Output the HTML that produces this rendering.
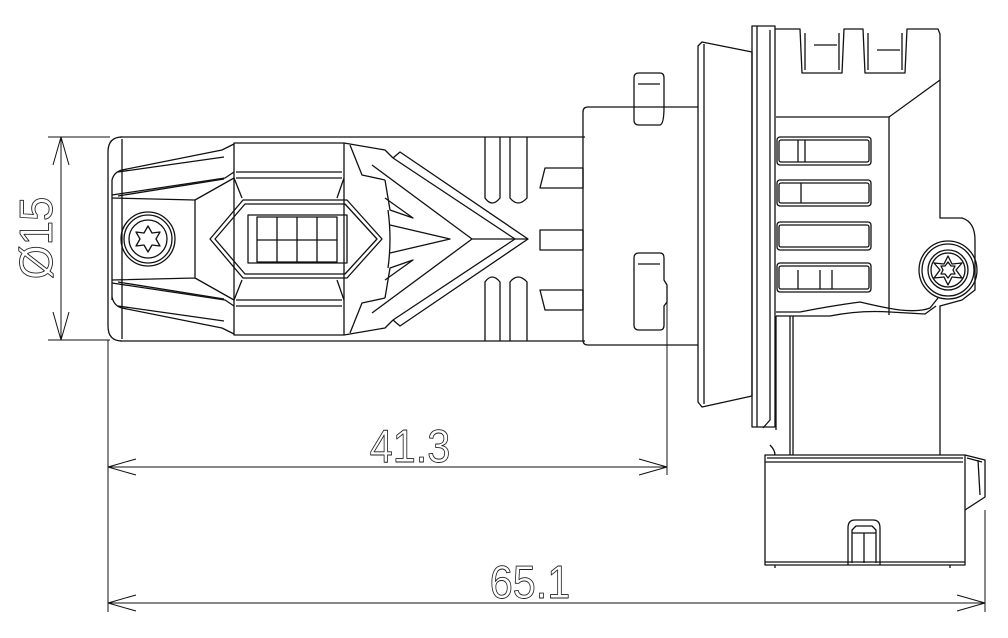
<!DOCTYPE html>
<html><head><meta charset="utf-8"><style>
html,body{margin:0;padding:0;background:#fff;width:1008px;height:638px;overflow:hidden}
svg{display:block}
text{font-family:"Liberation Sans Narrow","Liberation Sans",sans-serif;fill:#fff;stroke:#222;stroke-width:0.9}
</style></head><body>
<svg width="1008" height="638" viewBox="0 0 1008 638" fill="none" stroke="#111" stroke-width="1.3" stroke-linejoin="round">
<!-- dimension Ø15 -->
<line x1="48" y1="137" x2="110" y2="137" stroke-width="1"/>
<line x1="48" y1="340" x2="110" y2="340" stroke-width="1"/>
<line x1="61" y1="137" x2="61" y2="340" stroke-width="1"/>
<polyline points="53,165 61,137 69,165" stroke-width="1"/>
<polyline points="53,312 61,340 69,312" stroke-width="1"/>
<text transform="translate(52,238) rotate(-90) scale(0.95,1)" font-size="46" text-anchor="middle">Ø15</text>

<!-- 41.3 -->
<line x1="108" y1="340" x2="108" y2="612" stroke-width="1"/>
<line x1="667" y1="290" x2="667" y2="475" stroke-width="1"/>
<line x1="108" y1="467" x2="667" y2="467" stroke-width="1"/>
<polyline points="136,459 108,467 136,475" stroke-width="1"/>
<polyline points="639,459 667,467 639,475" stroke-width="1"/>
<text transform="translate(410,462) scale(0.9,1)" font-size="46" text-anchor="middle">41.3</text>

<!-- 65.1 -->
<line x1="985" y1="510" x2="985" y2="612" stroke-width="1"/>
<line x1="108" y1="603" x2="985" y2="603" stroke-width="1"/>
<polyline points="136,595 108,603 136,611" stroke-width="1"/>
<polyline points="957,595 985,603 957,611" stroke-width="1"/>
<text transform="translate(530,598) scale(0.9,1)" font-size="46" text-anchor="middle">65.1</text>

<!-- LEFT BODY -->
<path d="M120,137 L585,137 M120,341 L585,341"/>
<path d="M122,137 Q108,137 108,152 L108,326 Q108,341 122,341"/>
<path d="M122,139 L122,339"/>
<path d="M112,180 L112,300 M112,180 Q114,172 122,170 L222,150 L234,144 M112,195 L225,178 L234,172"/>
<path d="M118,172 L224,157 M118,196 L224,179"/>
<path d="M112,297 Q114,306 122,308 L222,328 L234,334 M112,283 L225,300 L234,306"/>
<path d="M118,306 L224,321 M118,282 L224,299"/>
<path d="M112,198 L195,200 L195,278 L112,280 M195,200 L234,178 M195,278 L234,300"/>
<circle cx="148" cy="239" r="27"/>
<circle cx="148" cy="239" r="24"/>
<circle cx="148" cy="239" r="19"/>
<polygon points="148,226 152,233 160,232 156,239 160,246 152,245 148,252 144,245 136,246 140,239 136,232 144,233"/>
<path d="M234,143 L344,143 L344,335 L234,335 Z"/>
<path d="M236,172 L342,172 M236,178 L342,178 M236,300 L342,300 M236,306 L342,306"/>
<path d="M234,178 L242,198 M344,178 L337,198 M234,300 L242,280 M344,300 L337,280"/>
<polygon points="210,239 243,200 347,200 382,239 347,278 243,278"/>
<polygon points="215,239 245,204 345,204 377,239 345,274 245,274"/>
<rect x="248" y="215" width="99" height="48"/>
<rect x="257" y="217" width="80" height="45"/>
<path d="M277,217 V262 M297,217 V262 M317,217 V262 M257,240 H337"/>
<path d="M344,143 L385,150 L393,158 M344,335 L385,328 L393,320"/>
<path d="M350,145 L362,175 L385,180 M350,333 L362,303 L385,298"/>
<path d="M385,180 L390,210 L413,218 L385,198 M385,298 L390,268 L413,260 L385,280"/>
<path d="M388,210 Q392,239 388,268"/>
<path d="M393,158 L400,152 L528,239 L400,326 L393,320"/>
<path d="M393,158 L515,239 L393,320"/>
<path d="M372,165 L472,239 L372,313"/>
<path d="M390,225 L450,239 L390,253"/>
<path d="M472,239 L528,239"/>
<path d="M485,137 V198 Q492,208 500,198 V137 M510,137 V198 Q518,208 527,198 V137"/>
<path d="M485,341 V282 Q492,272 500,282 V341 M510,341 V282 Q518,272 527,282 V341"/>
<path d="M545,168 L583,168 L583,188 L540,188 Z"/>
<path d="M540,230 L583,230 L583,250 L540,250 Z"/>
<path d="M540,290 L583,290 L583,310 L545,310 Z"/>

<!-- socket base -->
<path d="M583,112 Q583,107 588,107 L698,107 M588,345 Q583,345 583,340 L583,112 M588,345 L698,345"/>
<path d="M634,107 V78 Q634,73 639,73 L660,73 Q664,73 664,78 V107 Q664,124 660,125 L639,125 Q634,125 634,120 Z"/>
<path d="M638,84 L660,84"/>
<path d="M634,258 Q634,253 639,253 L660,253 Q664,253 664,258 V280 L667,285 V302 L664,306 V325 Q664,330 660,330 L639,330 Q634,330 634,325 Z"/>
<path d="M638,264 L660,264"/>
<path d="M698,46 L702,42 L752,52 L752,396 L702,407 L698,402 Z"/>
<path d="M704,44 V404"/>
<path d="M752,26 L775,26 L775,427 L752,427 Z"/>
<path d="M757,26 V427 M770,30 V420 L763,428"/>
<!-- housing -->
<path d="M775,29 L800,29 L802,73 L842,73 L844,29 L863,29 L865,73 L905,73 L907,29 L938,29 L940,34 L940,80 L889,117 L889,315"/>
<path d="M805,33 V70 M839,33 V70 M868,33 V70 M902,33 V70 M814,45 L837,45 M877,50 L900,50"/>
<path d="M940,80 L940,218 L962,218 Q975,222 975,240 L975,290 L962,300 L940,306 L940,455"/>
<path d="M776,117 L889,117"/>
<rect x="777" y="137" width="94" height="28" rx="3"/>
<rect x="779" y="140" width="90" height="22" rx="2"/>
<rect x="777" y="180" width="94" height="26" rx="3"/>
<rect x="779" y="183" width="90" height="20" rx="2"/>
<rect x="777" y="222" width="94" height="28" rx="3"/>
<rect x="779" y="225" width="90" height="22" rx="2"/>
<rect x="777" y="263" width="94" height="29" rx="3"/>
<rect x="779" y="266" width="90" height="23" rx="2"/>
<path d="M798,140 V162 M805,140 V162 M801,183 V203 M798,270 V289 M820,270 V289 M832,270 V289"/>
<circle cx="948" cy="270" r="29"/>
<circle cx="948" cy="270" r="26"/>
<circle cx="948" cy="270" r="20"/>
<circle cx="948" cy="270" r="17"/>
<polygon points="948,256 952,264 962,263 956,270 962,278 952,277 948,285 944,277 934,278 940,270 934,263 944,264"/>
<polygon points="948,262 951,266 955,266 953,270 955,274 951,274 948,278 945,274 941,274 943,270 941,266 945,266"/>
<path d="M776,312 L800,312 Q830,306 860,302 Q885,308 900,310 Q920,312 930,308 L938,298"/>
<path d="M776,316 L830,316 Q860,310 890,312 L925,314 L936,306"/>
<path d="M776,316 V430 M790,316 V455 M793,316 V455"/>
<path d="M770,445 Q775,450 775,455"/>
<!-- lower box -->
<rect x="765" y="455" width="200" height="110"/>
<path d="M965,455 L985,460 L985,497 L965,510"/>
<path d="M767,458 L963,458 M765,462 L963,462 M967,458 L982,462 M978,460 L980,495"/>
<path d="M765,562 L965,562 M775,565 V568 M950,565 V568"/>
<path d="M848,565 V528 Q848,520 855,520 L873,520 Q880,520 880,528 V565 M852,563 V530 L856,526 L872,526 L876,530 V563 M852,533 L876,533 M864,533 V563"/>
</svg>
</body></html>
